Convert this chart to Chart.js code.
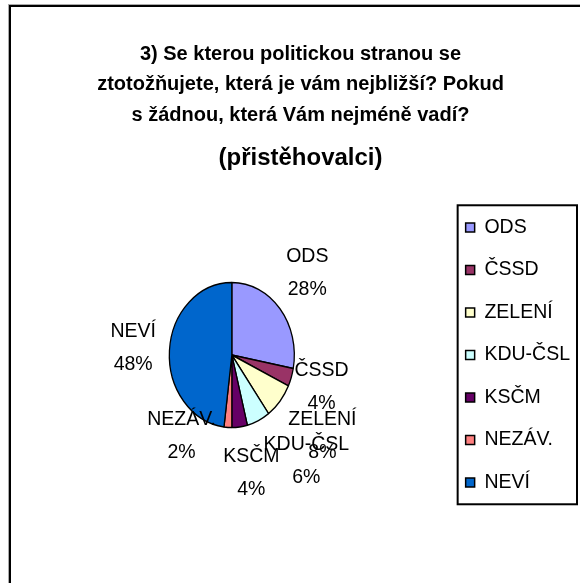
<!DOCTYPE html>
<html>
<head>
<meta charset="utf-8">
<script src="https://cdn.jsdelivr.net/npm/chart.js@4.4.1/dist/chart.umd.min.js"></script>
<style>
  html, body { margin: 0; padding: 0; background: #fff; overflow: hidden; }
  #wrap { position: relative; width: 580px; height: 583px; }
  #frame { position: absolute; left: 9px; top: 5px; width: 640px; height: 640px; border: 2px solid #000; box-shadow: -1px -1px 0 #aaa; }
  canvas { position: absolute; left: 0; top: 0; }
</style>
</head>
<body>
<div id="wrap">
  <div id="frame"></div>
  <canvas id="chart" width="580" height="583"></canvas>
</div>
<script>
'use strict';

const TITLE_LINES = [
  '3) Se kterou politickou stranou se',
  'ztotožňujete, která je vám nejbližší? Pokud',
  's žádnou, která Vám nejméně vadí?',
];
const SUBTITLE = '(přistěhovalci)';

const PARTIES = ['ODS', 'ČSSD', 'ZELENÍ', 'KDU-ČSL', 'KSČM', 'NEZÁV.', 'NEVÍ'];
const SHARES = [28, 4, 8, 6, 4, 2, 48];
const COLORS = ['#9999ff', '#993366', '#ffffcc', '#ccffff', '#660066', '#ff8080', '#0066cc'];

const FONT = "'Liberation Sans', Arial, sans-serif";
// the pie in the original is drawn a bit narrower than tall
const PIE_SQUEEZE = 62.5 / 72.5;

const ovalPie = {
  id: 'ovalPie',
  beforeDatasetsDraw(chart) {
    const arc = chart.getDatasetMeta(0).data[0];
    const ctx = chart.ctx;
    ctx.save();
    ctx.translate(arc.x, arc.y);
    ctx.scale(PIE_SQUEEZE, 1);
    ctx.translate(-arc.x, -arc.y);
  },
  afterDatasetsDraw(chart) {
    chart.ctx.restore();
  },
};

// "outside end" labels: name on one line, percent below
const pieLabels = {
  id: 'pieLabels',
  afterDatasetsDraw(chart, args, opts) {
    const ctx = chart.ctx;
    const meta = chart.getDatasetMeta(0);
    const total = SHARES.reduce((s, v) => s + v, 0);
    ctx.save();
    ctx.font = `${opts.size}px ${FONT}`;
    ctx.fillStyle = '#000';
    ctx.textAlign = 'center';
    ctx.textBaseline = 'middle';
    meta.data.forEach((arc, i) => {
      const lines = [PARTIES[i], Math.round(SHARES[i] / total * 100) + '%'];
      const mid = (arc.startAngle + arc.endAngle) / 2 + (opts.shift[i] || 0) * Math.PI / 180;
      const ux = Math.cos(mid);
      const uy = Math.sin(mid);
      const rx = arc.outerRadius * PIE_SQUEEZE;
      const ry = arc.outerRadius;
      const hw = Math.max(...lines.map(t => ctx.measureText(t).width)) / 2;
      const hh = (opts.lineGap + opts.size) / 2;
      const push = opts.gaps[i] + hw * Math.abs(ux) + hh * Math.abs(uy);
      const cx = arc.x + ux * (rx + push);
      const cy = arc.y + uy * (ry + push);
      ctx.fillText(lines[0], cx, cy - opts.lineGap / 2);
      ctx.fillText(lines[1], cx, cy + opts.lineGap / 2);
    });
    ctx.restore();
  },
};

const legendFrame = {
  id: 'legendFrame',
  afterDraw(chart, args, opts) {
    const boxes = chart.legend.legendHitBoxes;
    if (!boxes || !boxes.length) return;
    const left = Math.min(...boxes.map(b => b.left)) - opts.padLeft;
    const right = Math.max(...boxes.map(b => b.left + b.width)) + opts.padRight;
    const top = Math.min(...boxes.map(b => b.top)) - opts.padTop;
    const bottom = Math.max(...boxes.map(b => b.top + b.height)) + opts.padBottom;
    const ctx = chart.ctx;
    ctx.save();
    ctx.strokeStyle = '#000';
    ctx.lineWidth = 2;
    ctx.strokeRect(left, top, right - left, bottom - top);
    ctx.restore();
  },
};

new Chart(document.getElementById('chart'), {
  type: 'pie',
  data: {
    labels: PARTIES,
    datasets: [{
      data: SHARES,
      backgroundColor: COLORS,
      borderColor: '#000',
      borderWidth: 1.5,
      radius: 72.5,
    }],
  },
  options: {
    responsive: false,
    animation: false,
    events: [],
    layout: { padding: { left: 21, right: 0, top: 0, bottom: 46 } },
    plugins: {
      title: {
        display: true,
        text: TITLE_LINES,
        color: '#000',
        font: { family: FONT, size: 20, weight: 'bold', lineHeight: 1.525 },
        padding: { top: 38.75, bottom: 0 },
      },
      subtitle: {
        display: true,
        text: SUBTITLE,
        color: '#000',
        font: { family: FONT, size: 24, weight: 'bold', lineHeight: 1.2 },
        padding: { top: 14, bottom: 0 },
      },
      legend: {
        position: 'right',
        fullSize: false,
        labels: {
          color: '#000',
          font: { family: FONT, size: 19.5 },
          boxWidth: 9,
          boxHeight: 9,
          padding: 23,
        },
      },
      tooltip: { enabled: false },
      pieLabels: {
        size: 19.5,
        lineGap: 33,
        shift: [-5, 0, 0, -12, -3, 31, 0],
        gaps: [10, -2, 12, 14, 17, -15, 12],
      },
      legendFrame: { padLeft: 8, padRight: 7, padTop: 12.5, padBottom: 12 },
    },
  },
  plugins: [ovalPie, pieLabels, legendFrame],
});
</script>
</body>
</html>
